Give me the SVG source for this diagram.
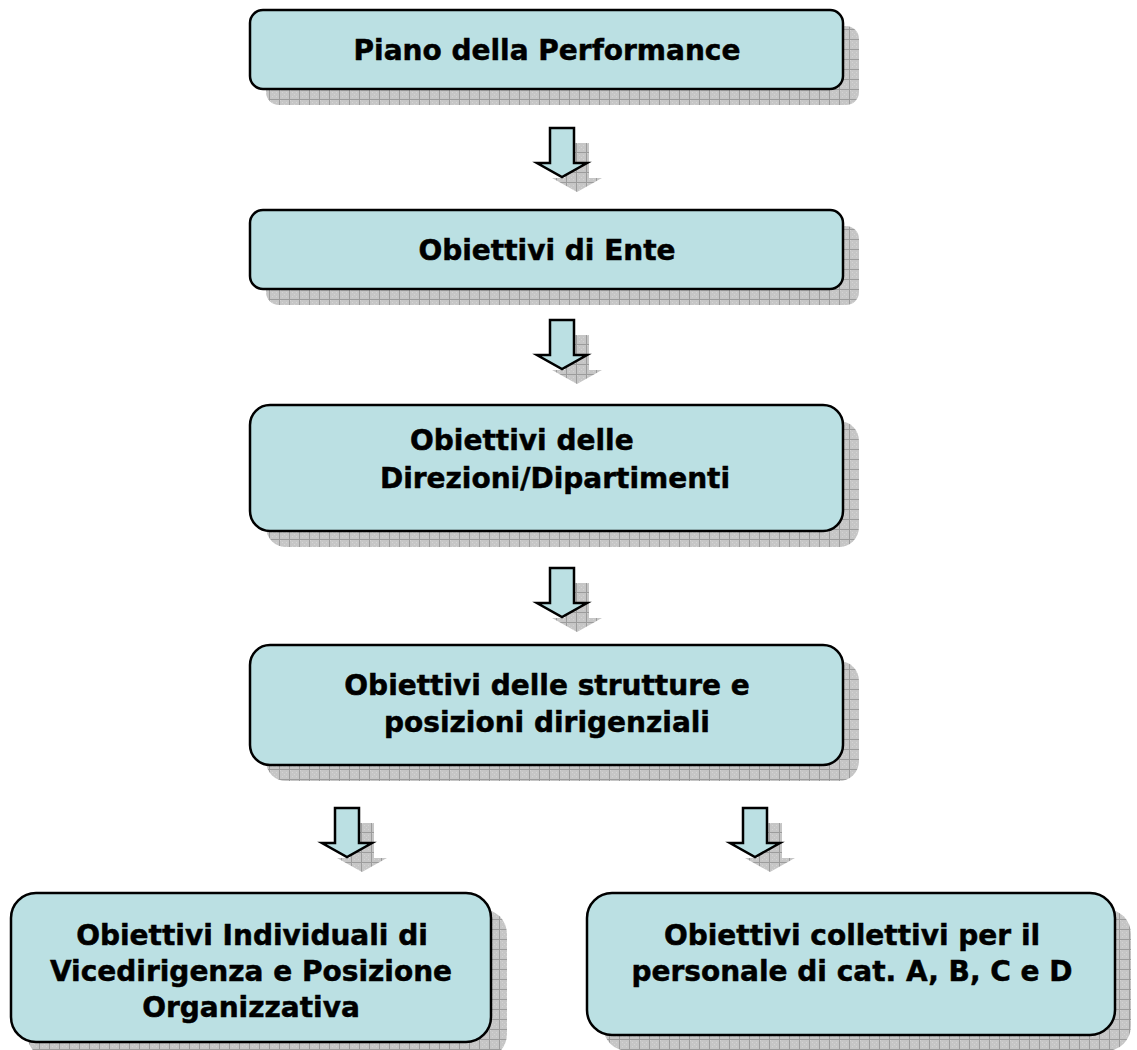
<svg xmlns="http://www.w3.org/2000/svg" width="1137" height="1050" viewBox="0 0 1137 1050">
<defs>
<pattern id="grid" width="10" height="10" patternUnits="userSpaceOnUse">
<rect width="10" height="10" fill="#c6c6c6"/>
<rect x="0" y="0" width="1" height="1" fill="#d4d4d4"/>
<rect x="2" y="2" width="1" height="1" fill="#d4d4d4"/>
<rect x="4" y="4" width="1" height="1" fill="#d4d4d4"/>
<rect x="6" y="6" width="1" height="1" fill="#d4d4d4"/>
<rect x="2" y="6" width="1" height="1" fill="#d4d4d4"/>
<rect x="6" y="2" width="1" height="1" fill="#d4d4d4"/>
<rect x="9" y="0" width="1" height="10" fill="#9c9c9c"/>
<rect x="0" y="9" width="10" height="1" fill="#9c9c9c"/>
</pattern>
<path id="arr" d="M-12,0 L12,0 L12,35 L25,35 L0,49 L-25,35 L-12,35 Z"/>
</defs>
<style>
.shadow{fill:url(#grid);stroke:none}
.box{fill:#bbe0e3;stroke:#000;stroke-width:2.5}
.arrow{fill:#bbe0e3;stroke:#000;stroke-width:2.5;stroke-linejoin:miter}
.ashadow{fill:url(#grid);stroke:none}
text{font-family:"DejaVu Sans","Verdana",sans-serif;font-weight:bold;font-size:28px;fill:#000;stroke:#000;stroke-width:0.5;text-anchor:middle}
</style>
<rect width="1137" height="1050" fill="#fff"/>

<g id="connectors">
<use href="#arr" class="ashadow" transform="translate(577,143)"/>
<use href="#arr" class="arrow" transform="translate(562,128)"/>
<use href="#arr" class="ashadow" transform="translate(577,335)"/>
<use href="#arr" class="arrow" transform="translate(562,320)"/>
<use href="#arr" class="ashadow" transform="translate(577,583)"/>
<use href="#arr" class="arrow" transform="translate(562,568)"/>
<use href="#arr" class="ashadow" transform="translate(362,823)"/>
<use href="#arr" class="arrow" transform="translate(347,808)"/>
<use href="#arr" class="ashadow" transform="translate(770,823)"/>
<use href="#arr" class="arrow" transform="translate(755,808)"/>
</g>

<g id="node-piano">
<rect class="shadow" x="266" y="26" width="593" height="79" rx="13"/>
<rect class="box" x="250" y="10" width="593" height="79" rx="13"/>
<text x="547" y="60">Piano della Performance</text>
</g>

<g id="node-ente">
<rect class="shadow" x="266" y="226" width="593" height="79" rx="13"/>
<rect class="box" x="250" y="210" width="593" height="79" rx="13"/>
<text x="547" y="260">Obiettivi di Ente</text>
</g>

<g id="node-direzioni">
<rect class="shadow" x="266" y="421" width="593" height="126" rx="20"/>
<rect class="box" x="250" y="405" width="593" height="126" rx="20"/>
<text x="410" y="450" style="text-anchor:start">Obiettivi delle</text>
<text x="555" y="488">Direzioni/Dipartimenti</text>
</g>

<g id="node-strutture">
<rect class="shadow" x="266" y="661" width="593" height="120" rx="20"/>
<rect class="box" x="250" y="645" width="593" height="120" rx="20"/>
<text x="547" y="695">Obiettivi delle strutture e</text>
<text x="547" y="732">posizioni dirigenziali</text>
</g>

<g id="node-individuali">
<rect class="shadow" x="27" y="909" width="480" height="150" rx="25"/>
<rect class="box" x="11" y="893" width="480" height="149" rx="25"/>
<text x="252" y="945">Obiettivi Individuali di</text>
<text x="251" y="981">Vicedirigenza e Posizione</text>
<text x="251" y="1017">Organizzativa</text>
</g>

<g id="node-collettivi">
<rect class="shadow" x="603" y="909" width="528" height="142" rx="25"/>
<rect class="box" x="587" y="893" width="528" height="142" rx="25"/>
<text x="852" y="945">Obiettivi collettivi per il</text>
<text x="852" y="981">personale di cat. A, B, C e D</text>
</g>
</svg>
